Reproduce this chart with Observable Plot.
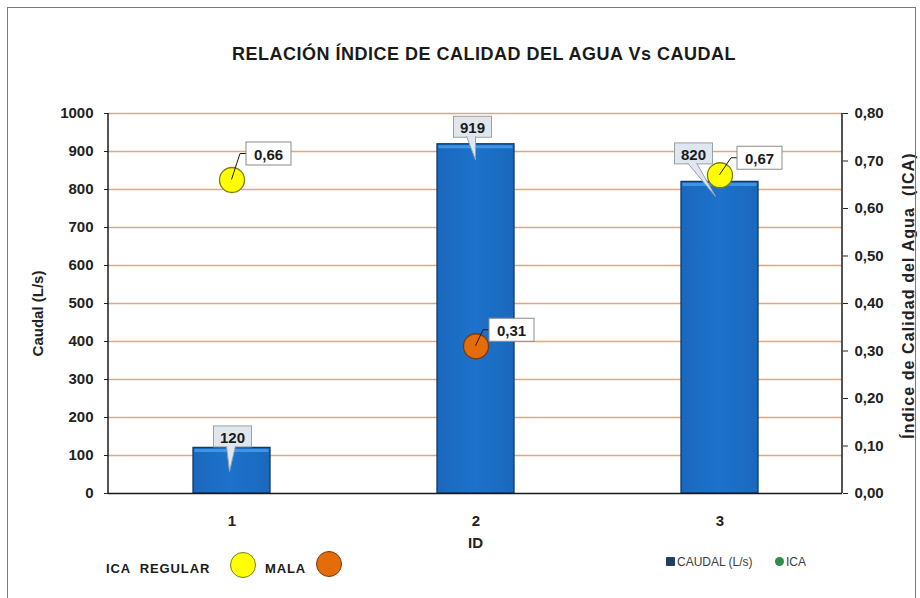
<!DOCTYPE html>
<html><head><meta charset="utf-8">
<script src="https://cdn.jsdelivr.net/npm/d3@7"></script>
<script src="https://cdn.jsdelivr.net/npm/@observablehq/plot@0.6"></script>
<style>
body{margin:0;background:#fff;font-family:"Liberation Sans",Arial,sans-serif;}
#wrap{position:relative;width:920px;height:598px;overflow:hidden;background:#fff;}
#chart{position:absolute;left:0;top:0;}
#frame{position:absolute;left:7px;top:7px;width:907px;height:620px;border:1.5px solid #7a7a7a;pointer-events:none;}
.title{position:absolute;left:0;width:968px;top:44px;text-align:center;font-weight:bold;font-size:18px;letter-spacing:0.5px;color:#1a1a1a;}
.leg{position:absolute;font-weight:bold;font-size:13px;letter-spacing:0.9px;color:#1a1a1a;white-space:pre;line-height:1;}
.dotL{position:absolute;border-radius:50%;box-sizing:border-box;}
.leg2{position:absolute;font-size:12px;color:#3c3c3c;white-space:pre;line-height:1;font-family:"Liberation Sans Narrow","Liberation Sans",Arial,sans-serif;}
</style>
</head><body>
<svg width="0" height="0" style="position:absolute">
  <defs>
    <linearGradient id="barGrad" x1="0" y1="0" x2="1" y2="0">
      <stop offset="0" stop-color="#1a68bd"/>
      <stop offset="0.5" stop-color="#1d72cb"/>
      <stop offset="1" stop-color="#1a68bd"/>
    </linearGradient>
  </defs>
</svg>
<div id="wrap">
  <div id="chart"></div>
  <div class="title">RELACIÓN ÍNDICE DE CALIDAD DEL AGUA Vs CAUDAL</div>
  <div class="leg" style="left:106px;top:562px;">ICA  REGULAR</div>
  <div class="dotL" style="left:230px;top:552px;width:26px;height:26px;background:#ffff00;border:1.5px solid #7d7d10;"></div>
  <div class="leg" style="left:265px;top:562px;">MALA</div>
  <div class="dotL" style="left:316px;top:551px;width:26px;height:26px;background:#e46c0a;border:1.5px solid #7a3a0c;"></div>
  <div class="dotL" style="left:666px;top:557px;width:9px;height:9px;border-radius:1px;background:#1f3f66;"></div>
  <div class="leg2" style="left:677px;top:556px;">CAUDAL (L/s)</div>
  <div class="dotL" style="left:775px;top:557px;width:9px;height:9px;background:#2e8b4e;"></div>
  <div class="leg2" style="left:786px;top:556px;">ICA</div>
  <div id="frame"></div>
</div>
<script>
// ---- data ----
const ids = ["1", "2", "3"];
const caudal = [120, 919, 820];          // L/s
const ica = [0.66, 0.31, 0.67];          // índice
const icaClass = ["REGULAR", "MALA", "REGULAR"];
const caudalTicks = [0, 100, 200, 300, 400, 500, 600, 700, 800, 900, 1000];
const icaTicks = [0, 0.1, 0.2, 0.3, 0.4, 0.5, 0.6, 0.7, 0.8];
const caudalMax = 1000, icaMax = 0.8;

const K = caudalMax / icaMax; // secondary axis factor
const rows = ids.map((id, i) => ({id, caudal: caudal[i], ica: ica[i], cls: icaClass[i]}));
const fmt2 = v => v.toFixed(2).replace(".", ",");

const font = "Liberation Sans, Arial, sans-serif";
const chart = Plot.plot({
  width: 920, height: 598,
  marginLeft: 108, marginRight: 78, marginTop: 113, marginBottom: 105,
  style: {fontFamily: font, fontSize: "15px", fontWeight: "bold", color: "#222", background: "transparent"},
  x: {type: "band", domain: ids, paddingInner: 0.685, paddingOuter: 0.3425},
  y: {domain: [0, caudalMax]},
  marks: [
    Plot.ruleY(caudalTicks.filter(d => d > 0), {stroke: "#e3a77c", strokeWidth: 1.4}),
    Plot.barY(rows, {x: "id", y: "caudal", fill: "url(#barGrad)", stroke: "#0e3a6a", strokeWidth: 1.3}),
    Plot.tickY(rows, {x: "id", y: "caudal", dy: 2.5, stroke: "#3d95e4", strokeWidth: 3, inset: 1.5}),
    Plot.ruleY([0], {stroke: "#1a1a1a", strokeWidth: 1.5}),
    Plot.axisY(caudalTicks, {anchor: "left", tickSize: 4, tickPadding: 11, label: null, fontSize: 15,
      tickFormat: d => String(d)}),
    Plot.axisY(icaTicks.map(v => v * K), {anchor: "right", tickSize: 5, tickPadding: 7, label: null,
      tickFormat: d => fmt2(d / K), fontSize: 15}),
    Plot.axisX(ids, {anchor: "bottom", tickSize: 0, tickPadding: 22, label: null, fontSize: 15}),
    Plot.text(["Caudal (L/s)"], {frameAnchor: "left", textAnchor: "middle", dx: -70, dy: 10, rotate: -90,
      fontSize: 15, fontWeight: "bold", fill: "#222"}),
    Plot.text(["Índice de Calidad del Agua  (ICA)"], {frameAnchor: "right", textAnchor: "middle", dx: 66, dy: -8, rotate: -90,
      fontSize: 16, fontWeight: "bold", fill: "#222"}),
    Plot.text(["ID"], {frameAnchor: "bottom", dy: 54, fontSize: 15, fontWeight: "bold", fill: "#222"}),
    Plot.dot(rows.filter(d => d.cls === "REGULAR"), {x: "id", y: d => d.ica * K, r: 12.5, fill: "#ffff00", stroke: "#7d7d10", strokeWidth: 1.3}),
    Plot.dot(rows.filter(d => d.cls === "MALA"), {x: "id", y: d => d.ica * K, r: 12.5, fill: "#e46c0a", stroke: "#7a3a0c", strokeWidth: 1.3})
  ]
});
document.getElementById("chart").appendChild(chart);

// ---- axis lines & callout labels, positioned with Plot's scales ----
const xs = chart.scale("x"), ys = chart.scale("y");
const cx = id => xs.apply(id) + xs.bandwidth / 2;
const yv = v => ys.apply(v);
const svg = d3.select(chart);
svg.selectAll("text").filter(function () { return this.textContent.startsWith("Índice"); }).attr("letter-spacing", "1.1px");
const g = svg.append("g");
const [xl, xr] = [108, 920 - 78];
g.append("line").attr("x1", xl).attr("x2", xl).attr("y1", yv(caudalMax)).attr("y2", yv(0)).attr("stroke", "#1a1a1a").attr("stroke-width", 1.5);
g.append("line").attr("x1", xr).attr("x2", xr).attr("y1", yv(caudalMax)).attr("y2", yv(0)).attr("stroke", "#1a1a1a").attr("stroke-width", 1.5);

// bar value callouts (layout offsets in px)
const barLayout = [
  {dx: 1, dy: -11, tx: -2, ty: 24},
  {dx: -3, dy: -17, tx: 0, ty: 16},
  {dx: -26, dy: -28, tx: -4, ty: 15}
];
rows.forEach((d, i) => {
  const o = barLayout[i];
  const x0 = cx(d.id), yt = yv(d.caudal);
  const bx = x0 + o.dx, by = yt + o.dy, w = 38, h = 21;
  g.append("rect").attr("x", bx - w / 2).attr("y", by - h / 2).attr("width", w).attr("height", h)
    .attr("fill", "#dfe6ee").attr("stroke", "#97a2ad").attr("stroke-width", 1);
  g.append("path").attr("d", `M${bx - 6},${by + h / 2 - 1}L${x0 + o.tx},${yt + o.ty}L${bx + 3},${by + h / 2 - 1}`)
    .attr("fill", "#dfe6ee").attr("stroke", "#97a2ad").attr("stroke-width", 1);
  g.append("text").attr("x", bx).attr("y", by + 1).attr("text-anchor", "middle").attr("dominant-baseline", "central")
    .attr("font-family", font).attr("font-weight", "bold").attr("font-size", 15).attr("fill", "#1a1a1a").text(d.caudal);
});

// ICA value labels
const icaLayout = [
  {dx: 37, dy: -26},
  {dx: 36, dy: -16},
  {dx: 40, dy: -17}
];
rows.forEach((d, i) => {
  const o = icaLayout[i];
  const px = cx(d.id), py = yv(d.ica * K);
  const bx = px + o.dx, by = py + o.dy, w = 45, h = 23;
  g.append("path").attr("d", `M${px},${py}L${bx - w / 2 - 6},${by}L${bx - w / 2},${by}`)
    .attr("fill", "none").attr("stroke", "#1a1a1a").attr("stroke-width", 1);
  g.append("rect").attr("x", bx - w / 2).attr("y", by - h / 2).attr("width", w).attr("height", h)
    .attr("fill", "#ffffff").attr("stroke", "#8c8c8c").attr("stroke-width", 1);
  g.append("text").attr("x", bx).attr("y", by + 1).attr("text-anchor", "middle").attr("dominant-baseline", "central")
    .attr("font-family", font).attr("font-weight", "bold").attr("font-size", 15).attr("fill", "#1a1a1a").text(fmt2(d.ica));
});
</script>
</body></html>
